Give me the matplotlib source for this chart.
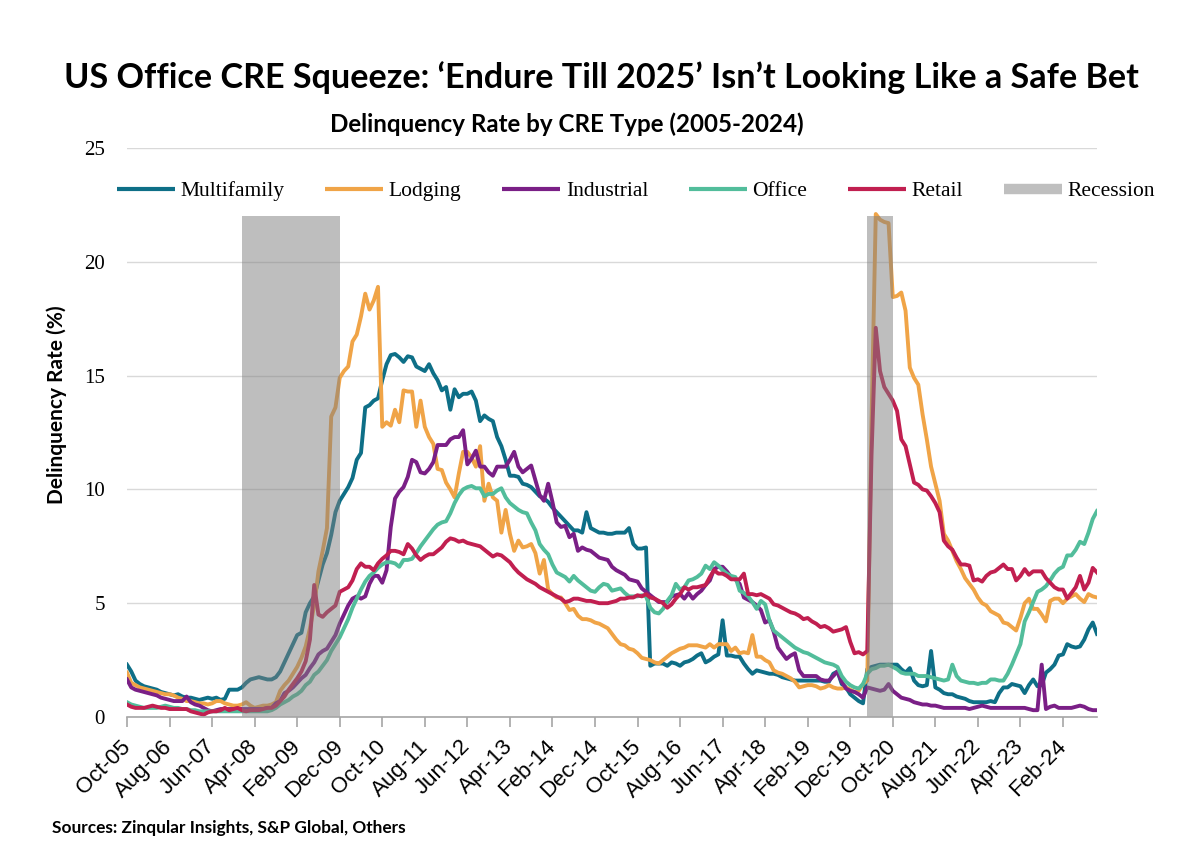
import numpy as np
import matplotlib
matplotlib.use('Agg')
from matplotlib import pyplot as plt
from matplotlib.lines import Line2D

# monthly delinquency rates (%), Oct-05 .. Oct-24
multifamily = [
    2.3, 2.0, 1.6, 1.45, 1.35, 1.3, 1.25, 1.2, 1.1, 1.05, 1.0, 0.95,
    1.0, 0.9, 0.85, 0.85, 0.8, 0.75, 0.8, 0.85, 0.8, 0.85, 0.75, 0.8,
    1.2, 1.2, 1.2, 1.3, 1.5, 1.65, 1.7, 1.75, 1.7, 1.65, 1.65, 1.75,
    2.0, 2.4, 2.8, 3.2, 3.6, 3.7, 4.6, 5.0, 5.3, 6.0, 6.7, 7.2,
    8.0, 9.0, 9.5, 9.8, 10.1, 10.5, 11.3, 11.6, 13.6, 13.7, 13.9, 14.0,
    14.8, 15.5, 15.9, 15.95, 15.8, 15.6, 15.85, 15.8, 15.4, 15.3, 15.2, 15.5,
    15.1, 14.8, 14.35, 14.5, 13.5, 14.4, 14.05, 14.2, 14.2, 14.3, 13.9, 13.0,
    13.25, 13.1, 13.0, 12.3, 11.9, 11.3, 10.6, 10.6, 10.55, 10.25, 10.2, 10.1,
    9.9, 9.7, 9.6, 9.45, 9.2, 9.0, 8.8, 8.6, 8.4, 8.2, 8.2, 8.1,
    9.0, 8.3, 8.2, 8.1, 8.1, 8.05, 8.05, 8.1, 8.1, 8.1, 8.3, 7.6,
    7.4, 7.4, 7.45, 2.25, 2.35, 2.35, 2.35, 2.25, 2.4, 2.35, 2.25, 2.4,
    2.45, 2.55, 2.7, 2.8, 2.4, 2.5, 2.65, 2.75, 4.25, 2.7, 2.7, 2.65,
    2.65, 2.35, 2.1, 1.9, 2.05, 2.0, 1.95, 1.9, 1.9, 1.85, 1.75, 1.7,
    1.65, 1.6, 1.6, 1.6, 1.6, 1.6, 1.6, 1.6, 1.55, 1.55, 1.9, 2.0,
    1.45, 1.3, 1.0, 0.85, 0.7, 0.6, 2.1, 2.2, 2.25, 2.3, 2.3, 2.3,
    2.3, 2.3, 2.1, 1.95, 2.15, 1.6, 1.4, 1.35, 1.4, 2.9, 1.3, 1.2,
    1.05, 1.0, 1.0, 0.9, 0.85, 0.8, 0.7, 0.65, 0.65, 0.65, 0.65, 0.7,
    0.65, 1.05, 1.3, 1.3, 1.45, 1.4, 1.35, 1.05, 1.4, 1.65, 1.35, 1.4,
    1.95, 2.1, 2.3, 2.7, 2.75, 3.2, 3.1, 3.05, 3.1, 3.4, 3.85, 4.15,
    3.65]

lodging = [
    1.95, 1.5, 1.4, 1.3, 1.25, 1.2, 1.15, 1.1, 1.05, 1.0, 1.0, 0.95,
    0.85, 0.8, 0.7, 0.7, 0.65, 0.6, 0.6, 0.55, 0.6, 0.7, 0.7, 0.6,
    0.55, 0.5, 0.5, 0.55, 0.65, 0.5, 0.4, 0.45, 0.5, 0.5, 0.55, 0.65,
    1.15, 1.4, 1.6, 1.9, 2.2, 2.6, 3.1, 3.9, 4.9, 6.4, 7.3, 8.3,
    13.2, 13.6, 14.9, 15.2, 15.4, 16.5, 16.8, 17.6, 18.6, 17.9, 18.3, 18.9,
    12.75, 12.95, 12.8, 13.5, 12.95, 14.35, 14.3, 14.3, 12.75, 13.9, 12.75, 12.3,
    12.0, 10.9, 10.85, 10.3, 10.0, 9.65, 10.7, 11.65, 11.65, 11.4, 11.0, 11.9,
    9.5, 10.25, 9.65, 9.5, 8.1, 9.1, 8.05, 7.3, 7.75, 7.45, 7.5, 7.6,
    7.2, 6.3, 6.9, 5.6, 5.4, 5.25, 5.25, 5.0, 4.7, 4.75, 4.45, 4.3,
    4.3, 4.25, 4.15, 4.1, 4.0, 3.9, 3.65, 3.4, 3.2, 3.15, 3.0, 2.95,
    2.8, 2.6, 2.55, 2.5, 2.4, 2.35, 2.5, 2.65, 2.8, 2.9, 3.0, 3.05,
    3.15, 3.15, 3.15, 3.1, 3.05, 3.2, 3.05, 3.2, 3.2, 3.2, 2.9, 3.05,
    2.8, 2.85, 2.8, 3.6, 2.65, 2.65, 2.5, 2.4, 2.05, 1.95, 1.9, 1.8,
    1.7, 1.55, 1.3, 1.35, 1.4, 1.4, 1.35, 1.25, 1.3, 1.4, 1.3, 1.25,
    1.25, 1.3, 1.2, 1.1, 1.15, 1.45, 1.6, 13.0, 22.1, 21.85, 21.75, 21.7,
    18.45, 18.5, 18.65, 17.85, 15.35, 14.9, 14.6, 13.3, 12.2, 11.0, 10.25, 9.5,
    8.05, 7.75, 7.3, 6.85, 6.5, 6.1, 5.85, 5.6, 5.25, 5.0, 4.9, 4.65,
    4.55, 4.45, 4.15, 4.1, 3.95, 3.8, 4.35, 5.0, 5.2, 4.75, 4.75, 4.5,
    4.2, 5.1, 5.2, 5.2, 5.0, 5.2, 5.3, 5.4, 5.2, 5.05, 5.4, 5.3,
    5.25]

industrial = [
    1.65, 1.3, 1.2, 1.15, 1.1, 1.05, 1.0, 0.95, 0.85, 0.8, 0.75, 0.7,
    0.7, 0.7, 0.9, 0.65, 0.55, 0.5, 0.4, 0.3, 0.25, 0.3, 0.35, 0.35,
    0.35, 0.35, 0.35, 0.35, 0.35, 0.35, 0.35, 0.35, 0.35, 0.4, 0.4, 0.6,
    0.7, 1.05, 1.15, 1.3, 1.5, 1.7, 1.85, 2.15, 2.4, 2.75, 2.9, 3.0,
    3.3, 3.6, 4.1, 4.5, 4.9, 5.2, 5.3, 5.2, 5.3, 5.85, 6.2, 6.2,
    5.9, 6.45, 8.35, 9.6, 9.9, 10.1, 10.55, 11.3, 11.2, 10.75, 10.7, 10.9,
    11.2, 11.95, 11.95, 11.95, 12.2, 12.3, 12.3, 12.6, 11.1, 11.35, 11.7, 11.0,
    11.0, 10.75, 10.6, 11.0, 11.0, 11.0, 11.3, 11.65, 11.0, 10.75, 10.9, 11.05,
    10.4, 9.75, 9.5, 10.25, 9.45, 8.55, 8.35, 8.4, 7.9, 8.05, 7.3, 7.45,
    7.35, 7.3, 7.15, 7.0, 6.95, 6.9, 6.6, 6.45, 6.35, 6.25, 6.05, 6.0,
    5.95, 5.65, 5.5, 5.35, 5.2, 5.05, 5.05, 5.05, 5.3, 5.35, 5.4, 5.2,
    5.45, 5.2, 5.4, 5.55, 5.8, 6.0, 6.5, 6.6, 6.6, 6.4, 6.15, 6.05,
    5.85, 5.25, 5.15, 5.05, 4.9, 4.7, 4.15, 4.25, 3.75, 3.05, 2.8, 2.55,
    2.7, 2.8, 2.05, 1.8, 1.8, 1.8, 1.8, 1.65, 1.6, 1.6, 1.8, 2.0,
    1.55, 1.25, 1.15, 1.1, 1.0, 0.85, 1.3, 1.25, 1.2, 1.15, 1.2, 1.45,
    1.15, 1.0, 0.85, 0.8, 0.75, 0.65, 0.6, 0.55, 0.55, 0.5, 0.5, 0.45,
    0.4, 0.4, 0.4, 0.4, 0.4, 0.4, 0.35, 0.4, 0.45, 0.5, 0.45, 0.4,
    0.4, 0.4, 0.4, 0.4, 0.4, 0.4, 0.4, 0.4, 0.35, 0.3, 0.3, 2.3,
    0.35, 0.45, 0.5, 0.4, 0.4, 0.4, 0.4, 0.45, 0.5, 0.45, 0.35, 0.3,
    0.3]

office = [
    0.65, 0.55, 0.5, 0.45, 0.4, 0.4, 0.4, 0.4, 0.45, 0.5, 0.45, 0.4,
    0.4, 0.35, 0.35, 0.3, 0.3, 0.25, 0.25, 0.25, 0.25, 0.25, 0.25, 0.25,
    0.25, 0.25, 0.25, 0.25, 0.25, 0.25, 0.25, 0.25, 0.25, 0.25, 0.3, 0.4,
    0.55, 0.65, 0.75, 0.9, 1.0, 1.15, 1.4, 1.55, 1.85, 2.0, 2.25, 2.5,
    2.9, 3.2, 3.5, 3.9, 4.3, 4.8, 5.2, 5.6, 5.95, 6.2, 6.35, 6.55,
    6.7, 6.8, 6.8, 6.75, 6.6, 6.9, 6.9, 6.95, 7.2, 7.5, 7.75, 8.0,
    8.25, 8.45, 8.55, 8.6, 8.95, 9.4, 9.75, 10.0, 10.1, 10.15, 10.05, 10.05,
    9.7, 9.8, 9.8, 9.95, 10.05, 9.65, 9.4, 9.25, 9.1, 9.0, 8.95, 8.55,
    8.2, 7.6, 7.35, 7.15, 6.7, 6.35, 6.25, 6.15, 5.95, 6.2, 6.0, 5.85,
    5.7, 5.55, 5.5, 5.7, 5.85, 5.8, 5.55, 5.6, 5.65, 5.45, 5.3, 5.3,
    5.3, 5.35, 5.3, 4.8, 4.6, 4.55, 4.75, 5.1, 5.35, 5.85, 5.6, 5.7,
    6.0, 6.05, 6.15, 6.3, 6.65, 6.5, 6.8, 6.65, 6.45, 6.3, 6.2, 6.15,
    5.55, 5.45, 5.3, 5.05, 4.75, 5.1, 4.95, 4.25, 3.8, 3.65, 3.5, 3.35,
    3.2, 3.05, 2.95, 2.85, 2.8, 2.7, 2.6, 2.5, 2.4, 2.35, 2.3, 2.2,
    1.8, 1.55, 1.4, 1.3, 1.25, 1.45, 1.9, 2.1, 2.15, 2.25, 2.25, 2.3,
    2.2, 2.1, 1.95, 1.9, 1.9, 1.9, 1.8, 1.8, 1.8, 1.75, 1.7, 1.65,
    1.6, 1.65, 2.3, 1.8, 1.6, 1.55, 1.5, 1.5, 1.45, 1.5, 1.5, 1.65,
    1.65, 1.6, 1.6, 1.9, 2.3, 2.75, 3.2, 4.2, 4.6, 5.05, 5.5, 5.6,
    5.75, 6.0, 6.3, 6.5, 6.6, 7.1, 7.1, 7.35, 7.7, 7.6, 8.1, 8.7,
    9.05]

retail = [
    0.55, 0.45, 0.4, 0.4, 0.4, 0.45, 0.5, 0.45, 0.4, 0.4, 0.35, 0.35,
    0.35, 0.35, 0.35, 0.25, 0.2, 0.15, 0.1, 0.2, 0.25, 0.25, 0.3, 0.4,
    0.3, 0.35, 0.4, 0.3, 0.25, 0.3, 0.3, 0.3, 0.35, 0.4, 0.4, 0.5,
    0.7, 0.9, 1.2, 1.45, 1.7, 2.0, 2.45, 3.4, 5.8, 4.5, 4.4, 4.6,
    4.75, 4.9, 5.5, 5.6, 5.7, 6.0, 6.5, 6.75, 6.6, 6.6, 6.45, 6.75,
    6.95, 7.1, 7.3, 7.3, 7.25, 7.15, 7.6, 7.4, 7.1, 6.9, 7.05, 7.15,
    7.15, 7.3, 7.45, 7.7, 7.85, 7.8, 7.7, 7.75, 7.65, 7.6, 7.55, 7.5,
    7.35, 7.2, 7.05, 7.15, 7.1, 6.95, 6.8, 6.55, 6.35, 6.2, 6.05, 5.95,
    5.85, 5.7, 5.6, 5.5, 5.4, 5.3, 5.2, 5.05, 5.1, 5.2, 5.2, 5.15,
    5.1, 5.1, 5.05, 5.0, 5.0, 5.0, 5.05, 5.1, 5.2, 5.2, 5.25, 5.25,
    5.35, 5.3, 5.4, 5.25, 5.2, 5.1, 5.0, 4.8, 4.95, 5.2, 5.4, 5.7,
    5.6, 5.7, 5.7, 5.75, 5.8, 6.15, 6.45, 6.3, 6.3, 6.2, 6.05, 6.05,
    6.05, 6.3, 5.4, 5.4, 5.35, 5.4, 5.3, 5.2, 4.95, 4.9, 4.8, 4.7,
    4.6, 4.55, 4.45, 4.3, 4.35, 4.2, 4.1, 3.95, 4.0, 3.9, 3.75, 3.8,
    3.85, 3.95, 3.3, 2.8, 2.85, 2.75, 2.9, 11.5, 17.1, 15.2, 14.5, 14.2,
    13.9, 13.45, 12.2, 11.9, 11.1, 10.3, 10.2, 10.0, 9.95, 9.7, 9.4, 9.0,
    7.75, 7.5, 7.35, 7.0, 6.7, 6.7, 6.65, 6.0, 6.05, 5.95, 6.2, 6.35,
    6.4, 6.55, 6.7, 6.5, 6.5, 6.0, 6.2, 6.5, 6.25, 6.4, 6.4, 6.4,
    6.1, 5.9, 5.7, 5.6, 5.6, 5.2, 5.45, 5.7, 6.2, 5.6, 5.9, 6.55,
    6.35]

series_names = ['Multifamily', 'Lodging', 'Industrial', 'Office', 'Retail']
series_colors = ['#0e6f87', '#f0a447', '#7a1f86', '#52bd9b', '#c11f50']

# recession shading (month index from Oct-05) and bar height
recession_start = [27, 174]
recession_end = [50, 180]
recession_height = 22

tick_labels = ['Oct-05', 'Aug-06', 'Jun-07', 'Apr-08', 'Feb-09', 'Dec-09',
               'Oct-10', 'Aug-11', 'Jun-12', 'Apr-13', 'Feb-14', 'Dec-14',
               'Oct-15', 'Aug-16', 'Jun-17', 'Apr-18', 'Feb-19', 'Dec-19',
               'Oct-20', 'Aug-21', 'Jun-22', 'Apr-23', 'Feb-24']

#%% plot
W, H = 1194, 849
fig = plt.figure(figsize=(W/100, H/100), dpi=100)
ax = fig.add_axes([127/W, 1-717/H, (1097-127)/W, (717-148)/H])

all_series = [multifamily, lodging, industrial, office, retail]
for vals, name, col in zip(all_series, series_names, series_colors):
    x = np.arange(len(vals))
    ax.plot(x, vals, color=col, lw=2.8, label=name, solid_joinstyle='round', zorder=3)

for s, e in zip(recession_start, recession_end):
    ax.fill_between([s, e], 0, recession_height, color='#7f7f7f', alpha=0.5,
                    lw=0, zorder=4)

ax.set_xlim(0, len(multifamily)-1)
ax.set_ylim(0, 25)
ax.set_yticks(range(0, 26, 5))
ax.set_xticks(range(0, 10*len(tick_labels), 10))
ax.set_xticklabels(tick_labels, rotation=45, ha='right', va='center',
                   rotation_mode='anchor', fontsize=16, family='Liberation Sans')
for lab in ax.get_yticklabels():
    lab.set_family('Liberation Serif')
    lab.set_fontsize(15)
ax.tick_params(axis='y', length=0, pad=16)
ax.tick_params(axis='x', length=7, width=1.2, color='#a6a6a6', pad=12)
ax.grid(True, axis='y', color='#d9d9d9', lw=1)
ax.set_axisbelow(True)
for sp in ['top', 'right', 'left']:
    ax.spines[sp].set_visible(False)
ax.spines['bottom'].set_color('#a6a6a6')
ax.spines['bottom'].set_linewidth(1.2)
ax.spines['bottom'].set_zorder(5)

# legend
handles = [Line2D([], [], color=c, lw=3, solid_capstyle='butt') for c in series_colors]
handles.append(Line2D([], [], color='#bfbfbf', lw=7.5, solid_capstyle='butt'))
labels = series_names + ['Recession']
fig.legend(handles, labels, loc='center', bbox_to_anchor=(636/W, 1-191/H), ncol=6,
           frameon=False, prop={'family': 'Liberation Serif', 'size': 15.5},
           handlelength=2.7, handletextpad=0.25, columnspacing=1.9)

title_font = ['Lato', 'DejaVu Sans']
t1 = fig.text(601/W, 1-78/H, 'US Office CRE Squeeze: \u2018Endure Till 2025\u2019 Isn\u2019t Looking Like a Safe Bet',
              ha='center', va='center', fontsize=27, fontweight='bold', family=title_font)
t2 = fig.text(567/W, 1-124/H, 'Delinquency Rate by CRE Type (2005-2024)',
              ha='center', va='center', fontsize=15, fontweight='bold', family=title_font)
t3 = fig.text(52/W, 1-828/H, 'Sources: Zinqular Insights, S&P Global, Others',
              ha='left', va='center', fontsize=11, fontweight='bold', family=title_font)
t4 = fig.text(57/W, 1-405/H, 'Delinquency Rate (%)', rotation=90,
              ha='center', va='center', fontsize=14, fontweight='bold', family=title_font)

# scale text so it spans the same width as in the reference
renderer = fig.canvas.get_renderer()
for t, target, horiz in [(t1, 1071, True), (t2, 475, True), (t3, 353, True), (t4, 200, False)]:
    bb = t.get_window_extent(renderer)
    size = bb.width if horiz else bb.height
    t.set_fontsize(t.get_fontsize() * target / size)

fig.savefig('out.png', dpi=100)
